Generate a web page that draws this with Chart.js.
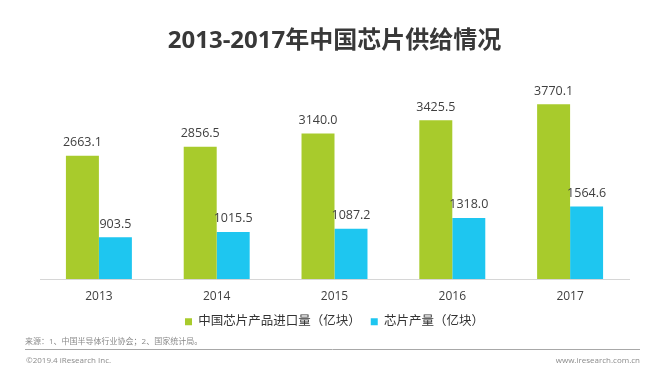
<!doctype html>
<html>

<head>
    <meta charset="utf-8" />
    <style>
        html,
        body {
            margin: 0px;
            padding: 0px;
            background-color: #ffffff;
        }

        .wrap {
            width: 667px;
            height: 384px;
        }
    </style>
    <title>2013-2017年中国芯片供给情况</title>
</head>

<body>
    <div class="wrap">
        <canvas id="chart_supply"></canvas>
    </div>

    <script src="https://cdn.jsdelivr.net/npm/chart.js@4"></script>

    <script>
        var years = ['2013', '2014', '2015', '2016', '2017'];
        var importVolume = [2663.1, 2856.5, 3140.0, 3425.5, 3770.1];
        var production = [903.5, 1015.5, 1087.2, 1318.0, 1564.6];
        var seriesNames = ['中国芯片产品进口量（亿块）', '芯片产量（亿块）'];
        var sourceNote = '来源：1、中国半导体行业协会；2、国家统计局。';
        var copyright = '©2019.4 iResearch Inc.';
        var website = 'www.iresearch.com.cn';

        var fontFamily = '"Open Sans", "Noto Sans CJK SC", sans-serif';

        // value labels above each bar
        var valueLabels = {
            id: 'valueLabels',
            afterDatasetsDraw: function (chart) {
                var ctx = chart.ctx;
                ctx.save();
                ctx.fillStyle = '#404040';
                ctx.font = '12.5px ' + fontFamily;
                ctx.textAlign = 'center';
                ctx.textBaseline = 'bottom';
                chart.data.datasets.forEach(function (ds, i) {
                    chart.getDatasetMeta(i).data.forEach(function (bar, j) {
                        ctx.fillText(ds.data[j].toFixed(1), bar.x, bar.y - 7);
                    });
                });
                ctx.restore();
            }
        };

        // source note and footer line
        var footer = {
            id: 'footer',
            afterDraw: function (chart) {
                var ctx = chart.ctx;
                ctx.save();
                ctx.fillStyle = '#8a8a8a';
                ctx.font = '8px ' + fontFamily;
                ctx.textBaseline = 'middle';
                ctx.textAlign = 'left';
                ctx.fillText(sourceNote, 25, 342);
                ctx.fillText(copyright, 26, 361);
                ctx.textAlign = 'right';
                ctx.fillText(website, 640, 361);
                ctx.strokeStyle = '#a8a8a8';
                ctx.lineWidth = 1;
                ctx.beginPath();
                ctx.moveTo(25, 349.5);
                ctx.lineTo(640, 349.5);
                ctx.stroke();
                ctx.restore();
            }
        };

        var ctx_supply = document.getElementById('chart_supply').getContext('2d');
        var chart_supply = new Chart(ctx_supply, {
            type: 'bar',
            data: {
                labels: years,
                datasets: [
                    {
                        label: seriesNames[0],
                        backgroundColor: '#a8cb2c',
                        data: importVolume
                    },
                    {
                        label: seriesNames[1],
                        backgroundColor: '#1ec6f0',
                        data: production
                    }
                ]
            },
            options: {
                animation: false,
                responsive: true,
                maintainAspectRatio: false,
                layout: {
                    padding: { left: 40, right: 38, top: 0, bottom: 46 }
                },
                datasets: {
                    bar: {
                        categoryPercentage: 0.56,
                        barPercentage: 1.0
                    }
                },
                scales: {
                    x: {
                        grid: { display: false },
                        border: { display: true, color: '#d6d6d6', width: 1 },
                        ticks: {
                            color: '#404040',
                            font: { family: fontFamily, size: 12 },
                            padding: 2
                        }
                    },
                    y: {
                        display: false,
                        min: 0,
                        max: 4300
                    }
                },
                plugins: {
                    title: {
                        display: true,
                        text: '2013-2017年中国芯片供给情况',
                        color: '#383838',
                        font: { family: fontFamily, size: 24, weight: 'bold' },
                        padding: { top: 27, bottom: 24 }
                    },
                    legend: {
                        position: 'bottom',
                        labels: {
                            color: '#333333',
                            boxWidth: 7,
                            boxHeight: 7,
                            padding: 10,
                            font: { family: fontFamily, size: 12.5 }
                        }
                    },
                    tooltip: { enabled: false }
                }
            },
            plugins: [valueLabels, footer]
        });
    </script>

</body>

</html>
